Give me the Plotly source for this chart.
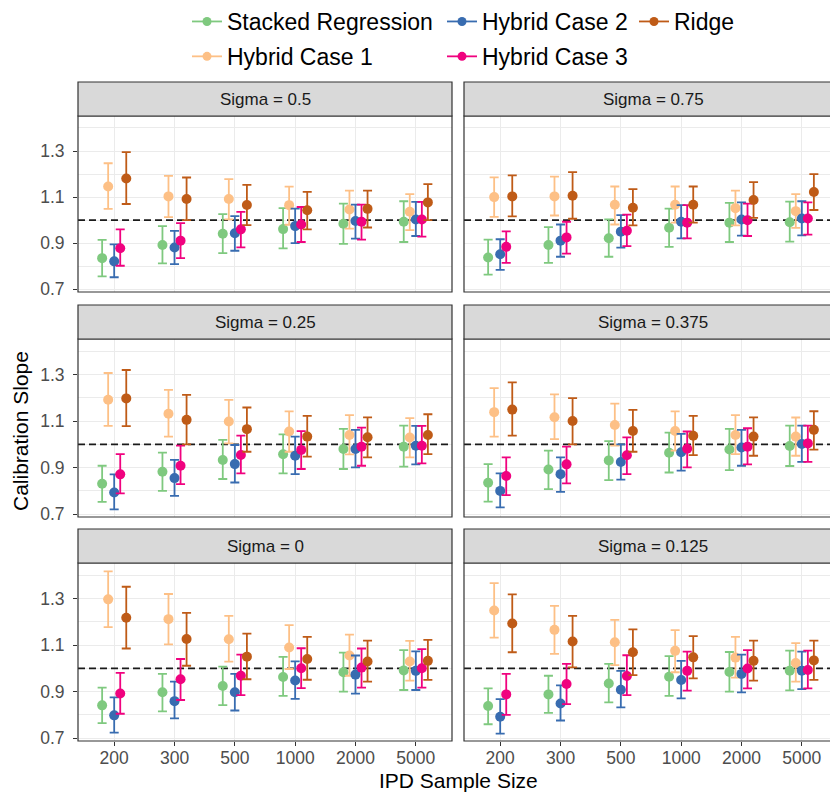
import plotly.graph_objects as go

# ---------------- data ----------------
sizes = ["200", "300", "500", "1000", "2000", "5000"]
methods = ["Stacked Regression", "Hybrid Case 1", "Hybrid Case 2", "Hybrid Case 3", "Ridge"]
panel_titles = ["Sigma = 0.5", "Sigma = 0.75", "Sigma = 0.25", "Sigma = 0.375", "Sigma = 0", "Sigma = 0.125"]

est_s0500 = {
    "Stacked Regression": [0.835, 0.892, 0.941, 0.961, 0.984, 0.993],
    "Hybrid Case 1": [1.146, 1.103, 1.092, 1.065, 1.046, 1.036],
    "Hybrid Case 2": [0.821, 0.881, 0.943, 0.974, 0.996, 1.003],
    "Hybrid Case 3": [0.878, 0.911, 0.960, 0.981, 0.993, 1.003],
    "Ridge": [1.181, 1.092, 1.066, 1.043, 1.049, 1.077],
}
lo_s0500 = {
    "Stacked Regression": [0.756, 0.812, 0.857, 0.877, 0.897, 0.905],
    "Hybrid Case 1": [1.049, 1.013, 1.003, 0.980, 0.963, 0.957],
    "Hybrid Case 2": [0.752, 0.809, 0.867, 0.900, 0.920, 0.931],
    "Hybrid Case 3": [0.802, 0.835, 0.882, 0.905, 0.915, 0.928],
    "Ridge": [1.070, 1.000, 0.978, 0.960, 0.968, 1.000],
}
hi_s0500 = {
    "Stacked Regression": [0.914, 0.974, 1.026, 1.052, 1.072, 1.082],
    "Hybrid Case 1": [1.247, 1.192, 1.178, 1.145, 1.128, 1.113],
    "Hybrid Case 2": [0.895, 0.953, 1.017, 1.050, 1.067, 1.079],
    "Hybrid Case 3": [0.960, 0.987, 1.036, 1.057, 1.067, 1.079],
    "Ridge": [1.295, 1.185, 1.153, 1.123, 1.128, 1.156],
}

est_s0750 = {
    "Stacked Regression": [0.838, 0.892, 0.921, 0.967, 0.989, 0.991],
    "Hybrid Case 1": [1.100, 1.103, 1.067, 1.067, 1.052, 1.039],
    "Hybrid Case 2": [0.852, 0.911, 0.950, 0.993, 1.003, 1.007],
    "Hybrid Case 3": [0.884, 0.925, 0.954, 0.989, 1.000, 1.007],
    "Ridge": [1.103, 1.106, 1.054, 1.067, 1.087, 1.122],
}
lo_s0750 = {
    "Stacked Regression": [0.763, 0.814, 0.841, 0.884, 0.905, 0.907],
    "Hybrid Case 1": [1.014, 1.020, 0.981, 0.989, 0.977, 0.966],
    "Hybrid Case 2": [0.784, 0.841, 0.881, 0.921, 0.933, 0.934],
    "Hybrid Case 3": [0.814, 0.855, 0.887, 0.921, 0.931, 0.937],
    "Ridge": [1.016, 1.006, 0.977, 0.989, 1.010, 1.044],
}
hi_s0750 = {
    "Stacked Regression": [0.915, 0.970, 1.003, 1.050, 1.075, 1.080],
    "Hybrid Case 1": [1.186, 1.189, 1.146, 1.146, 1.128, 1.113],
    "Hybrid Case 2": [0.917, 0.981, 1.022, 1.065, 1.077, 1.082],
    "Hybrid Case 3": [0.951, 0.993, 1.024, 1.065, 1.072, 1.077],
    "Ridge": [1.194, 1.208, 1.135, 1.146, 1.165, 1.200],
}

est_s0250 = {
    "Stacked Regression": [0.831, 0.882, 0.933, 0.957, 0.980, 0.990],
    "Hybrid Case 1": [1.191, 1.131, 1.098, 1.055, 1.040, 1.029],
    "Hybrid Case 2": [0.793, 0.855, 0.915, 0.951, 0.980, 0.994],
    "Hybrid Case 3": [0.871, 0.908, 0.954, 0.976, 0.990, 0.994],
    "Ridge": [1.197, 1.105, 1.065, 1.033, 1.030, 1.040],
}
lo_s0250 = {
    "Stacked Regression": [0.753, 0.800, 0.851, 0.875, 0.894, 0.904],
    "Hybrid Case 1": [1.079, 1.033, 1.004, 0.968, 0.957, 0.944],
    "Hybrid Case 2": [0.721, 0.779, 0.836, 0.872, 0.901, 0.914],
    "Hybrid Case 3": [0.789, 0.829, 0.875, 0.894, 0.908, 0.918],
    "Ridge": [1.078, 1.000, 0.968, 0.947, 0.944, 0.958],
}
hi_s0250 = {
    "Stacked Regression": [0.908, 0.964, 1.019, 1.043, 1.066, 1.080],
    "Hybrid Case 1": [1.306, 1.234, 1.191, 1.141, 1.125, 1.112],
    "Hybrid Case 2": [0.871, 0.933, 0.997, 1.033, 1.062, 1.079],
    "Hybrid Case 3": [0.958, 0.994, 1.037, 1.057, 1.072, 1.079],
    "Ridge": [1.319, 1.212, 1.158, 1.122, 1.116, 1.129],
}

est_s0375 = {
    "Stacked Regression": [0.835, 0.892, 0.931, 0.964, 0.978, 0.993],
    "Hybrid Case 1": [1.138, 1.116, 1.083, 1.057, 1.040, 1.033],
    "Hybrid Case 2": [0.800, 0.872, 0.924, 0.966, 0.986, 1.001],
    "Hybrid Case 3": [0.864, 0.914, 0.953, 0.981, 0.990, 1.004],
    "Ridge": [1.149, 1.100, 1.057, 1.037, 1.033, 1.062],
}
lo_s0375 = {
    "Stacked Regression": [0.754, 0.808, 0.846, 0.879, 0.889, 0.907],
    "Hybrid Case 1": [1.033, 1.022, 0.994, 0.973, 0.958, 0.951],
    "Hybrid Case 2": [0.729, 0.796, 0.848, 0.887, 0.908, 0.925],
    "Hybrid Case 3": [0.782, 0.832, 0.872, 0.901, 0.914, 0.925],
    "Ridge": [1.037, 1.000, 0.968, 0.954, 0.951, 0.977],
}
hi_s0375 = {
    "Stacked Regression": [0.915, 0.973, 1.014, 1.050, 1.066, 1.080],
    "Hybrid Case 1": [1.241, 1.214, 1.175, 1.141, 1.125, 1.115],
    "Hybrid Case 2": [0.875, 0.944, 1.000, 1.045, 1.062, 1.080],
    "Hybrid Case 3": [0.944, 0.990, 1.030, 1.055, 1.069, 1.080],
    "Ridge": [1.266, 1.198, 1.148, 1.122, 1.116, 1.142],
}

est_s0000 = {
    "Stacked Regression": [0.841, 0.897, 0.924, 0.963, 0.983, 0.991],
    "Hybrid Case 1": [1.296, 1.211, 1.125, 1.089, 1.055, 1.029],
    "Hybrid Case 2": [0.798, 0.859, 0.897, 0.948, 0.973, 0.989],
    "Hybrid Case 3": [0.892, 0.953, 0.968, 1.000, 1.003, 1.000],
    "Ridge": [1.217, 1.126, 1.050, 1.040, 1.029, 1.032],
}
lo_s0000 = {
    "Stacked Regression": [0.765, 0.815, 0.842, 0.882, 0.900, 0.907],
    "Hybrid Case 1": [1.177, 1.103, 1.029, 0.997, 0.968, 0.947],
    "Hybrid Case 2": [0.724, 0.785, 0.819, 0.869, 0.891, 0.907],
    "Hybrid Case 3": [0.805, 0.864, 0.885, 0.915, 0.917, 0.917],
    "Ridge": [1.085, 1.011, 0.953, 0.951, 0.943, 0.950],
}
hi_s0000 = {
    "Stacked Regression": [0.917, 0.976, 1.007, 1.049, 1.067, 1.078],
    "Hybrid Case 1": [1.416, 1.319, 1.225, 1.185, 1.145, 1.118],
    "Hybrid Case 2": [0.875, 0.943, 0.976, 1.030, 1.055, 1.073],
    "Hybrid Case 3": [0.980, 1.040, 1.059, 1.086, 1.085, 1.082],
    "Ridge": [1.350, 1.238, 1.149, 1.135, 1.119, 1.122],
}

est_s0125 = {
    "Stacked Regression": [0.838, 0.888, 0.935, 0.964, 0.984, 0.990],
    "Hybrid Case 1": [1.248, 1.165, 1.112, 1.075, 1.046, 1.023],
    "Hybrid Case 2": [0.792, 0.849, 0.908, 0.950, 0.976, 0.990],
    "Hybrid Case 3": [0.888, 0.933, 0.967, 0.989, 0.999, 0.993],
    "Ridge": [1.192, 1.115, 1.069, 1.047, 1.032, 1.034],
}
lo_s0125 = {
    "Stacked Regression": [0.760, 0.809, 0.854, 0.882, 0.900, 0.905],
    "Hybrid Case 1": [1.132, 1.062, 1.014, 0.983, 0.960, 0.943],
    "Hybrid Case 2": [0.720, 0.776, 0.832, 0.871, 0.897, 0.911],
    "Hybrid Case 3": [0.800, 0.846, 0.885, 0.904, 0.914, 0.914],
    "Ridge": [1.069, 1.004, 0.971, 0.957, 0.947, 0.950],
}
hi_s0125 = {
    "Stacked Regression": [0.914, 0.968, 1.019, 1.052, 1.070, 1.076],
    "Hybrid Case 1": [1.366, 1.268, 1.208, 1.164, 1.135, 1.108],
    "Hybrid Case 2": [0.868, 0.927, 0.989, 1.032, 1.059, 1.072],
    "Hybrid Case 3": [0.976, 1.019, 1.056, 1.072, 1.078, 1.076],
    "Ridge": [1.317, 1.225, 1.167, 1.138, 1.119, 1.119],
}

y_ticks = [0.7, 0.9, 1.1, 1.3]
y_minor = [0.8, 1.0, 1.2, 1.4]
reference_slope = 1.0

# ---------------- styling / layout ----------------
colors = {
    "Stacked Regression": "#7FC97F",
    "Hybrid Case 1": "#FDC086",
    "Hybrid Case 2": "#386CB0",
    "Hybrid Case 3": "#F0027F",
    "Ridge": "#BF5B17",
}
dodge = {"Stacked Regression": -0.2, "Hybrid Case 1": -0.1, "Hybrid Case 2": 0.0,
         "Hybrid Case 3": 0.1, "Ridge": 0.2}
legend_of = {"Stacked Regression": "legend", "Hybrid Case 1": "legend",
             "Hybrid Case 2": "legend2", "Hybrid Case 3": "legend2", "Ridge": "legend3"}

panels = [
    (est_s0500, lo_s0500, hi_s0500),
    (est_s0750, lo_s0750, hi_s0750),
    (est_s0250, lo_s0250, hi_s0250),
    (est_s0375, lo_s0375, hi_s0375),
    (est_s0000, lo_s0000, hi_s0000),
    (est_s0125, lo_s0125, hi_s0125),
]

W, H = 830, 794


def PX(x):
    return x / W


def PY(y):
    return 1 - y / H


FONT = "Liberation Sans, Arial, Helvetica, sans-serif"
cols_px = [(78, 452), (464, 842)]
rows_px = [(116, 292), (339, 517), (563, 741)]
strip_h = 34
px_per_unit = (cols_px[0][1] - cols_px[0][0]) / 6.2
y_range = [0.688, 1.452]

fig = go.Figure()
layout = dict(
    template="none",
    width=W, height=H, autosize=False,
    margin=dict(l=0, r=0, t=0, b=0, pad=0, autoexpand=False),
    paper_bgcolor="white", plot_bgcolor="white",
    font=dict(family=FONT, color="#000000"),
    showlegend=True,
)
shapes = []
annotations = []

xpos = list(range(len(sizes)))

for p, (est, lo, hi) in enumerate(panels):
    r, c = divmod(p, 2)
    ax = "" if p == 0 else str(p + 1)
    x0p, x1p = cols_px[c]
    top, bot = rows_px[r]
    x_dom_end = min(x1p, W)
    xr_max = -0.6 + (x_dom_end - x0p) / px_per_unit
    layout["xaxis" + ax] = dict(
        domain=[PX(x0p), PX(x_dom_end)], anchor="y" + ax, automargin=False,
        range=[-0.6, xr_max], tickvals=xpos, ticktext=sizes,
        showgrid=True, gridcolor="#EBEBEB", gridwidth=1.3, zeroline=False,
        showline=False,
        ticks="outside" if r == 2 else "", ticklen=4, tickwidth=1, tickcolor="#333333",
        showticklabels=(r == 2), ticklabelstandoff=-3,
        tickfont=dict(size=17.5, color="#4D4D4D", family=FONT),
        fixedrange=True,
    )
    layout["yaxis" + ax] = dict(
        domain=[PY(bot), PY(top)], anchor="x" + ax, automargin=False,
        range=y_range, tickvals=y_ticks, ticktext=[f"{v:.1f}" for v in y_ticks],
        showgrid=True, gridcolor="#EBEBEB", gridwidth=1.3, zeroline=False,
        minor=dict(tickvals=y_minor, showgrid=True, gridcolor="#EBEBEB", gridwidth=0.7, ticks=""),
        showline=False,
        ticks="outside" if c == 0 else "", ticklen=4, tickwidth=1, tickcolor="#333333",
        showticklabels=(c == 0), ticklabelstandoff=5,
        tickfont=dict(size=17.5, color="#4D4D4D", family=FONT),
        fixedrange=True,
    )
    # dashed reference line at slope = 1 (drawn as a trace, under the points)
    fig.add_trace(go.Scatter(
        x=[-0.6, xr_max], y=[reference_slope, reference_slope], mode="lines",
        line=dict(color="#1A1A1A", width=1.8, dash="7px,4px"),
        showlegend=False, hoverinfo="skip", xaxis="x" + ax, yaxis="y" + ax,
    ))
    for m in methods:
        y = est[m]
        fig.add_trace(go.Scatter(
            x=[i + dodge[m] for i in xpos], y=y,
            mode="markers", name=m, showlegend=False,
            marker=dict(color=colors[m], size=10, line=dict(width=0)),
            error_y=dict(type="data", symmetric=False,
                         array=[h - v for h, v in zip(hi[m], y)],
                         arrayminus=[v - l for v, l in zip(y, lo[m])],
                         color=colors[m], thickness=1.8, width=4.5),
            xaxis="x" + ax, yaxis="y" + ax, hoverinfo="skip",
        ))
    # panel border
    shapes.append(dict(type="rect", xref="paper", yref="paper",
                       x0=PX(x0p), x1=PX(x1p), y0=PY(bot), y1=PY(top),
                       line=dict(color="#333333", width=1.2), fillcolor="rgba(0,0,0,0)", layer="above"))
    # strip
    shapes.append(dict(type="rect", xref="paper", yref="paper",
                       x0=PX(x0p), x1=PX(x1p), y0=PY(top), y1=PY(top - strip_h),
                       line=dict(color="#333333", width=1.2), fillcolor="#D9D9D9", layer="above"))
    annotations.append(dict(text=panel_titles[p], xref="paper", yref="paper",
                            x=PX((x0p + x1p) / 2), y=PY(top - strip_h / 2),
                            xanchor="center", yanchor="middle", showarrow=False,
                            font=dict(size=17, color="#1A1A1A", family=FONT)))

# legend glyph traces (line + dot as in the reference key)
for m in methods:
    fig.add_trace(go.Scatter(
        x=[None], y=[None], mode="lines+markers", name=m,
        line=dict(color=colors[m], width=1.8),
        marker=dict(color=colors[m], size=9),
        legend=legend_of[m], legendgroup=m, showlegend=True, hoverinfo="skip",
    ))

leg_common = dict(orientation="v", xanchor="left", yanchor="top",
                  font=dict(size=23, family=FONT, color="#000000"),
                  bgcolor="rgba(0,0,0,0)", borderwidth=0, tracegroupgap=2)
layout["legend"] = dict(x=PX(187), y=1, **leg_common)
layout["legend2"] = dict(x=PX(442), y=1, **leg_common)
layout["legend3"] = dict(x=PX(634), y=1, **leg_common)

annotations.append(dict(text="Calibration Slope", xref="paper", yref="paper",
                        x=PX(20), y=PY(431), textangle=-90, showarrow=False,
                        xanchor="center", yanchor="middle",
                        font=dict(size=21, color="#000000", family=FONT)))
annotations.append(dict(text="IPD Sample Size", xref="paper", yref="paper",
                        x=PX(458), y=PY(780), showarrow=False,
                        xanchor="center", yanchor="middle",
                        font=dict(size=21, color="#000000", family=FONT)))

layout["shapes"] = shapes
layout["annotations"] = annotations
fig.update_layout(**layout)
fig.write_html(
    "out.html",
    config={"displayModeBar": False, "staticPlot": False},
    post_script="document.body.style.margin='0px'; document.body.style.overflow='hidden';",
)
